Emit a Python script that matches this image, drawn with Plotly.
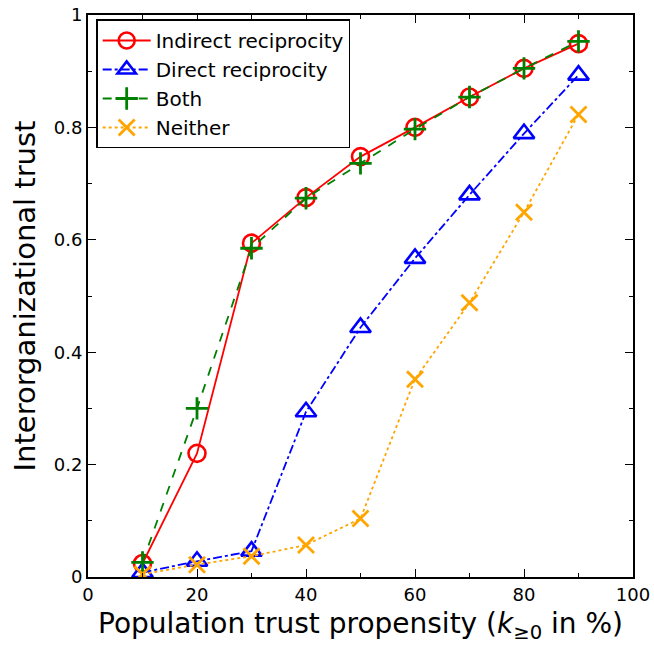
import plotly.graph_objects as go

x_vals = [10, 20, 30, 40, 50, 60, 70, 80, 90]
indirect = [0.024, 0.220, 0.594, 0.675, 0.748, 0.800, 0.854, 0.905, 0.949]
direct = [0.008, 0.028, 0.046, 0.294, 0.444, 0.567, 0.680, 0.789, 0.893]
both = [0.026, 0.300, 0.585, 0.674, 0.736, 0.797, 0.854, 0.905, 0.953]
neither = [0.005, 0.022, 0.037, 0.057, 0.104, 0.352, 0.488, 0.649, 0.823]

x_tickvals = [0, 20, 40, 60, 80, 100]
x_ticktext = ["0", "20", "40", "60", "80", "100"]
y_tickvals = [0, 0.2, 0.4, 0.6, 0.8, 1.0]
y_ticktext = ["0", "0.2", "0.4", "0.6", "0.8", "1"]

FONT = "DejaVu Sans"

fig = go.Figure()
fig.add_trace(go.Scatter(
    x=x_vals, y=indirect, name="Indirect reciprocity", mode="lines+markers",
    legendgroup="a",
    line=dict(color="red", width=1.8, dash="solid"),
    marker=dict(symbol="circle-open", size=17, color="red", line=dict(width=2.6, color="red")),
))
fig.add_trace(go.Scatter(
    x=x_vals, y=direct, name="Direct reciprocity", mode="lines+markers",
    legendgroup="b",
    line=dict(color="blue", width=1.8, dash="dashdot"),
    marker=dict(symbol="triangle-up-open", size=18, color="blue", line=dict(width=2.6, color="blue")),
))
fig.add_trace(go.Scatter(
    x=x_vals, y=both, name="Both", mode="lines+markers",
    legendgroup="c",
    line=dict(color="green", width=1.8, dash="dash"),
    marker=dict(symbol="cross-thin-open", size=16, color="green", line=dict(width=2.8, color="green")),
))
fig.add_trace(go.Scatter(
    x=x_vals, y=neither, name="Neither", mode="lines+markers",
    legendgroup="d",
    line=dict(color="orange", width=1.8, dash="dot"),
    marker=dict(symbol="x-thin-open", size=16, color="orange", line=dict(width=2.8, color="orange")),
))

axis_common = dict(
    showgrid=False, zeroline=False, showline=True, linecolor="black", linewidth=2,
    mirror="allticks", ticks="inside", ticklen=8, tickwidth=1.2, tickcolor="black",
    tickfont=dict(family=FONT, size=18, color="black"),
    automargin=False,
)

fig.update_xaxes(
    range=[0, 100], tickmode="array", tickvals=x_tickvals, ticktext=x_ticktext,
    minor=dict(dtick=10, ticks="inside", ticklen=4, tickwidth=1.2, tickcolor="black", showgrid=False),
    title=dict(text="Population trust propensity (<i>k</i><sub>≥0</sub> in %)",
               font=dict(family=FONT, size=28, color="black"), standoff=10),
    **axis_common,
)
fig.update_yaxes(
    range=[0, 1], tickmode="array", tickvals=y_tickvals, ticktext=y_ticktext,
    minor=dict(dtick=0.1, ticks="inside", ticklen=4, tickwidth=1.2, tickcolor="black", showgrid=False),
    title=dict(text="Interorganizational trust",
               font=dict(family=FONT, size=29, color="black"), standoff=10),
    **axis_common,
)

fig.update_layout(
    width=654, height=651,
    margin=dict(l=88, r=21, t=15, b=74),
    paper_bgcolor="white", plot_bgcolor="white",
    font=dict(family=FONT, color="black"),
    legend=dict(
        x=0.015, y=0.992, xanchor="left", yanchor="top",
        bgcolor="white", bordercolor="black", borderwidth=1.5,
        font=dict(family=FONT, size=20, color="black"),
        itemwidth=48, tracegroupgap=0,
    ),
    showlegend=True,
)

fig.write_html("out.html")
